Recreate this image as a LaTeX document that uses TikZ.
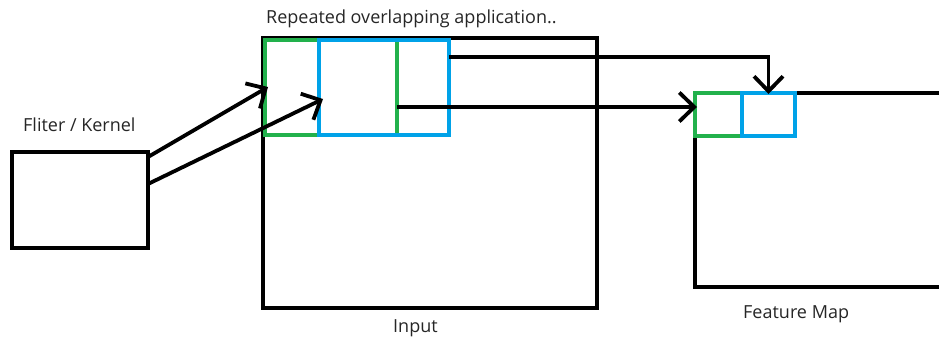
\documentclass[tikz,border=0pt]{standalone}
\usepackage{fontspec}
\setmainfont{Open Sans}
\usetikzlibrary{arrows.meta}
\definecolor{pgreen}{RGB}{34,177,76}
\definecolor{pblue}{RGB}{0,162,232}
\tikzset{
  blk/.style={draw=black,line width=3.8pt},
  box/.style={rectangle,inner sep=0pt,outer sep=0pt,line width=3.8pt},
  lbl/.style={inner sep=0pt,font=\fontsize{18}{21}\selectfont,text=black!85},
  arr/.style={blk,-{Straight Barb[length=15pt,width=29pt,line width=3.8pt]}}
}
\begin{document}
\begin{tikzpicture}[x=1pt,y=-1pt]
\useasboundingbox (0,0) rectangle (939,337);
% boxes
\node[box,draw=black,minimum width=136pt,minimum height=96pt] (filter) at (80,200) {};
\node[box,draw=black,minimum width=334pt,minimum height=270pt] (input) at (430,173) {};
% feature map outline
\coordinate (fmbl) at (695,287);
\coordinate (fmbr) at (945,287);
\coordinate (fmtr) at (945,93);
\node[box,minimum width=47pt,minimum height=43pt] (fgreenp) at (718.5,114.5) {};
\node[box,minimum width=53pt,minimum height=43pt] (fbluep) at (768.5,114.5) {};
\draw[blk] (fgreenp.south west) -- (fmbl) -- (fmbr);
\draw[blk] (fbluep.north east) -- (fmtr);
% coloured windows
\node[box,draw=pgreen,minimum width=132pt,minimum height=95pt] (green) at (331,87.5) {};
\node[box,draw=pblue,minimum width=130pt,minimum height=95pt] (blue) at (384,87.5) {};
\node[box,draw=pgreen,minimum width=47pt,minimum height=43pt] (fgreen) at (718.5,114.5) {};
\node[box,draw=pblue,minimum width=53pt,minimum height=43pt] (fblue) at (768.5,114.5) {};
% arrow ends
\coordinate (a1s) at (148,157);
\coordinate (a1e) at (268,87);
\coordinate (a2s) at (148,184);
\coordinate (a2e) at (323,99);
\coordinate (a3s) at (449,57);
\coordinate (a4s) at (397,107);
\draw[arr] (a1s) -- (a1e);
\draw[arr] (a2s) -- (a2e);
\draw[arr] (a3s) -| ([yshift=-1pt]fblue.north);
\draw[arr] (a4s) -- ([xshift=2pt]a4s -| fgreen.west);
% labels
\node[lbl,anchor=base west] (t1) at (266,24) {Repeated overlapping application..};
\node[lbl,anchor=base west] (t2) at (23,131) {Fliter / Kernel};
\node[lbl,anchor=base west] (t3) at (393,332) {Input};
\node[lbl,anchor=base west] (t4) at (743,318) {Feature Map};
\end{tikzpicture}
\end{document}
